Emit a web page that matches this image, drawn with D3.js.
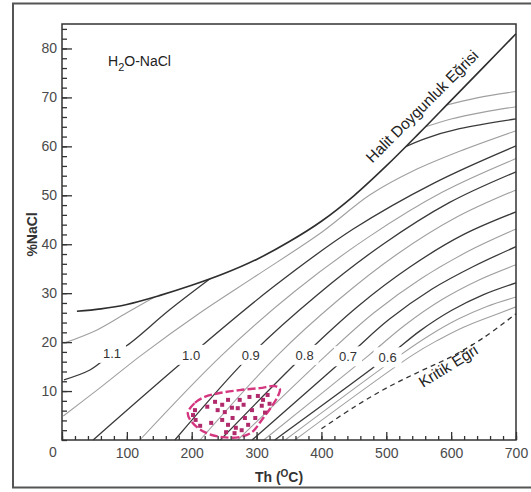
<!DOCTYPE html>
<html>
<head>
<meta charset="utf-8">
<script src="https://cdn.jsdelivr.net/npm/d3@7"></script>
<style>
  body { margin: 0; background: #fff; }
  svg { display: block; font-family: "Liberation Sans", Arial, sans-serif; }
</style>
</head>
<body>
<div id="wrapper"></div>
<script>
// Th (°C) vs wt% NaCl, isochores of H2O-NaCl fluids
const tempTicks = [0, 100, 200, 300, 400, 500, 600, 700];
const naclTicks = [10, 20, 30, 40, 50, 60, 70, 80];

const haliteCurve = [[23, 26.3], [60, 26.8], [100, 27.7], [150, 29.5], [200, 31.6], [250, 34.0], [300, 36.9],
  [350, 40.5], [400, 44.7], [450, 49.9], [500, 56.0], [550, 62.6], [600, 69.4], [650, 76.2], [700, 83]];
const criticalCurve = [[400, 2.3], [450, 6.7], [500, 10.6], [550, 13.9], [600, 17.0], [650, 20.9], [700, 25.8]];

// isochores (g/cm3); "a" = part below halite on the left, "b" = part leaving halite on the right
const iso120 = [[586, 68.2], [640, 69.9], [700, 71.2]];
const iso115b = [[556, 63.8], [600, 65.6], [650, 67.0], [700, 68.1]];
const iso115a = [[3, 19.8], [54, 22.5], [100, 26.0], [152, 29.9]];
const iso110a = [[3, 12.3], [43, 14.3], [77, 17.6], [100, 19.3], [166, 26.6], [237, 33.8]];
const iso110b = [[524, 59.6], [560, 61.6], [613, 63.6], [700, 65.6]];
const iso105 = [[2, 4.9], [58, 10.6], [123, 17.4], [213, 26.0], [300, 33.6], [401, 42.5], [475, 50.1], [545, 55.2], [613, 59.0], [700, 63.2]];
const iso100 = [[48, 0], [199, 17.4], [324, 31.1], [449, 43.1], [575, 52.6], [700, 60.1]];
const iso095 = [[120, 0], [247, 17.4], [360, 30.5], [473, 41.5], [586, 50.6], [700, 57.5]];
const iso090 = [[174, 0], [291, 17.4], [393, 29.6], [495, 40.0], [597, 48.5], [700, 54.8]];
const iso085 = [[213, 0], [333, 17.4], [425, 28.5], [516, 37.9], [608, 45.5], [700, 51.1]];
const iso080 = [[244, 0], [374, 17.4], [456, 27.3], [537, 35.4], [618, 41.9], [700, 46.6]];
const iso075 = [[271, 0], [408, 17.4], [481, 26.0], [554, 33.0], [627, 38.6], [700, 43.1]];
const iso070 = [[293, 0], [441, 17.2], [505, 24.7], [570, 30.8], [635, 35.5], [700, 39.5]];
const iso065 = [[311, 0], [472, 17.2], [529, 23.5], [586, 28.7], [643, 32.7], [700, 35.8]];
const iso060 = [[328, 0], [502, 17.0], [552, 22.3], [601, 26.5], [650, 29.7], [700, 32.1]];
const iso055 = [[344, 0], [522, 17.4], [567, 21.4], [611, 24.7], [655, 27.3], [700, 29.2]];
const iso050 = [[359, 0], [541, 17.4], [581, 20.5], [620, 23.1], [660, 25.2], [700, 27.2]];

const isoLabels = ["1.1", "1.0", "0.9", "0.8", "0.7", "0.6"];
const isoLabelT = [77, 199, 291, 374, 441, 502];
const isoLabelS = [17.8, 17.4, 17.4, 17.4, 17.1, 16.9];

// fluid inclusion field and measurements
const inclusionField = [[194, 5.5], [205, 7.6], [220, 8.8], [243, 9.6], [274, 10.2], [305, 10.6], [328, 11.0],
  [336, 10.4], [333, 9.0], [324, 7.0], [308, 4.1], [293, 1.6], [274, 0.6], [247, 0.6], [220, 1.6], [200, 3.7]];
const inclusionTh = [202, 206, 213, 205, 236, 247, 240, 256, 251, 247, 256, 263, 268, 253, 274, 280, 271,
  282, 287, 277, 302, 310, 317, 308, 320, 293, 298, 230, 262, 289, 313, 224, 266];
const inclusionNaCl = [5.1, 4.1, 2.9, 6.1, 7.8, 7.2, 6.1, 8.2, 5.7, 4.1, 3.1, 4.5, 2.5, 1.6, 8.2, 7.2, 6.5,
  4.5, 3.1, 2.0, 9.0, 8.2, 9.2, 7.0, 7.4, 6.1, 4.5, 3.5, 6.6, 8.8, 5.6, 6.8, 1.4];

const isochores = [
  { pts: iso120, dark: false }, { pts: iso115a, dark: false }, { pts: iso115b, dark: false },
  { pts: iso105, dark: false }, { pts: iso095, dark: false }, { pts: iso085, dark: false },
  { pts: iso075, dark: false }, { pts: iso065, dark: false }, { pts: iso055, dark: false },
  { pts: iso050, dark: false },
  { pts: iso110a, dark: true }, { pts: iso110b, dark: true },
  { pts: iso100, dark: true }, { pts: iso090, dark: true }, { pts: iso080, dark: true },
  { pts: iso070, dark: true }, { pts: iso060, dark: true },
];

const width = 531;
const height = 492;

const svg = d3.select("#wrapper").append("svg")
  .attr("width", width)
  .attr("height", height);

svg.append("rect").attr("width", width).attr("height", height).attr("fill", "#fff");
svg.append("rect")
  .attr("x", 13).attr("y", 3.5)
  .attr("width", 540).attr("height", 484)
  .attr("fill", "none").attr("stroke", "#555").attr("stroke-width", 2);

const x = d3.scaleLinear().domain([0, 700]).range([62, 516]);
const y = d3.scaleLinear().domain([0, 85]).range([440, 24]);

const line = d3.line()
  .x((d) => x(d[0]))
  .y((d) => y(d[1]))
  .curve(d3.curveCatmullRom.alpha(0.5));

// liquid field below halite saturation, used to trim the isochores
const halitePath = line(haliteCurve);
svg.append("clipPath").attr("id", "liquid")
  .append("path")
  .attr("d", `${halitePath}L${x(700) + 2},${y(83)}L${x(700) + 2},${y(0) + 2}L${x(0) - 2},${y(0) + 2}L${x(0) - 2},${y(26.3)}Z`);

const plot = svg.append("g");

plot.append("g")
  .attr("clip-path", "url(#liquid)")
  .selectAll("path")
  .data(isochores)
  .join("path")
  .attr("d", (d) => line(d.pts))
  .attr("fill", "none")
  .attr("stroke", (d) => (d.dark ? "#3a3a3a" : "#a0a0a0"))
  .attr("stroke-width", (d) => (d.dark ? 1.3 : 1.1));

plot.append("path")
  .attr("d", halitePath)
  .attr("fill", "none")
  .attr("stroke", "#2e2e2e")
  .attr("stroke-width", 1.6);

plot.append("path")
  .attr("d", line(criticalCurve))
  .attr("fill", "none")
  .attr("stroke", "#333")
  .attr("stroke-width", 1.3)
  .attr("stroke-dasharray", "5,4");

// isochore labels with a white gap in the line
const labelGroup = plot.append("g");
isoLabels.forEach((t, i) => {
  const g = labelGroup.append("g")
    .attr("transform", `translate(${x(isoLabelT[i])},${y(isoLabelS[i])})`);
  g.append("rect")
    .attr("x", -14).attr("y", -10)
    .attr("width", 28).attr("height", 20)
    .attr("fill", "#fff");
  g.append("text")
    .attr("text-anchor", "middle")
    .attr("dy", "0.36em")
    .attr("font-size", 13)
    .attr("fill", "#333")
    .text(t);
});

// inclusion field
plot.append("path")
  .attr("d", d3.line().x((d) => x(d[0])).y((d) => y(d[1])).curve(d3.curveCatmullRomClosed.alpha(0.5))(inclusionField))
  .attr("fill", "none")
  .attr("stroke", "#d4367f")
  .attr("stroke-width", 2.4)
  .attr("stroke-dasharray", "8,3");

plot.append("g")
  .selectAll("rect")
  .data(inclusionTh)
  .join("rect")
  .attr("x", (d) => x(d) - 2)
  .attr("y", (d, i) => y(inclusionNaCl[i]) - 2)
  .attr("width", 4)
  .attr("height", 4)
  .attr("fill", "#b02a6c");

// curve names
svg.append("text")
  .attr("transform", `translate(${x(561)},${y(67.4)}) rotate(-45)`)
  .attr("text-anchor", "middle")
  .attr("font-size", 15.5)
  .attr("fill", "#222")
  .text("Halit Doygunluk Eğrisi");

svg.append("text")
  .attr("transform", `translate(${x(600)},${y(14.2)}) rotate(-32)`)
  .attr("text-anchor", "middle")
  .attr("font-size", 15.5)
  .attr("fill", "#222")
  .text("Kritik Eğri");

const title = svg.append("text")
  .attr("x", 108).attr("y", 66)
  .attr("font-size", 14)
  .attr("fill", "#222");
title.append("tspan").text("H");
title.append("tspan").attr("font-size", 11).attr("dy", 5).text("2");
title.append("tspan").attr("dy", -5).text("O-NaCl");

// frame and axes
svg.append("rect")
  .attr("x", x(0)).attr("y", y(85))
  .attr("width", x(700) - x(0)).attr("height", y(0) - y(85))
  .attr("fill", "none").attr("stroke", "#333").attr("stroke-width", 1.5);

const axisStyle = (g) => {
  g.select(".domain").remove();
  g.selectAll("line").attr("stroke", "#333").attr("stroke-width", 1.3);
  g.selectAll("text")
    .attr("font-size", 14)
    .attr("fill", "#4a4a4a")
    .attr("font-family", "Liberation Sans, Arial, sans-serif");
};

svg.append("g")
  .attr("transform", `translate(0,${y(0)})`)
  .call(d3.axisBottom(x).tickValues(d3.range(0, 701, 20)).tickSize(-4).tickFormat(""))
  .call(axisStyle);
svg.append("g")
  .attr("transform", `translate(0,${y(0)})`)
  .call(d3.axisBottom(x).tickValues(tempTicks).tickSize(-8).tickPadding(8)
    .tickFormat((d) => (d === 0 ? "" : d)))
  .call(axisStyle);

svg.append("g")
  .attr("transform", `translate(${x(0)},0)`)
  .call(d3.axisLeft(y).tickValues(d3.range(0, 85, 2)).tickSize(-5).tickFormat(""))
  .call(axisStyle);
svg.append("g")
  .attr("transform", `translate(${x(0)},0)`)
  .call(d3.axisLeft(y).tickValues(naclTicks).tickSize(-10).tickPadding(5))
  .call(axisStyle);

svg.append("text")
  .attr("x", x(0) - 9).attr("y", y(0) + 17)
  .attr("text-anchor", "middle")
  .attr("font-size", 14)
  .attr("fill", "#4a4a4a")
  .text("0");

// axis titles
svg.append("text")
  .attr("transform", `translate(37,${y(42)}) rotate(-90)`)
  .attr("text-anchor", "middle")
  .attr("font-size", 14)
  .attr("font-weight", "bold")
  .attr("fill", "#333")
  .text("%NaCl");

const xTitle = svg.append("text")
  .attr("x", 279).attr("y", 482)
  .attr("text-anchor", "middle")
  .attr("font-size", 14)
  .attr("font-weight", "bold")
  .attr("fill", "#333");
xTitle.append("tspan").text("Th (");
xTitle.append("tspan").attr("font-size", 10).attr("dy", -5).text("O");
xTitle.append("tspan").attr("dy", 5).text("C)");
</script>
</body>
</html>
